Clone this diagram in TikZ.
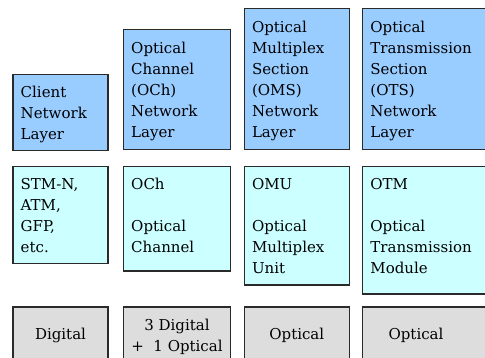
\documentclass[tikz,border=0pt]{standalone}
\usepackage{fontspec}
\setmainfont{DejaVu Serif}
\definecolor{layerblue}{HTML}{99CCFF}
\definecolor{unitcyan}{HTML}{CCFFFF}
\definecolor{kindgray}{HTML}{DDDDDD}
\definecolor{edge}{HTML}{2A2A2A}
\tikzset{
  layerbox/.style={draw=edge, line width=1.3pt, fill=layerblue},
  unitbox/.style={draw=edge, line width=1.3pt, fill=unitcyan},
  kindbox/.style={draw=edge, line width=1.3pt, fill=kindgray},
  txt/.style={inner sep=0pt, align=left, anchor=base west, font=\fontsize{15}{21}\selectfont},
  ctxt/.style={inner sep=0pt, align=center, anchor=base, font=\fontsize{15}{21}\selectfont},
}
\begin{document}
\begin{tikzpicture}[x=1pt, y=-1pt]
\useasboundingbox (0,0) rectangle (485,358);
\clip (0,0) rectangle (485,358);
% row 1 (node anchors are at the baseline of the last line)
\path[layerbox] (13,74.7) rectangle (108,150.7);
\path[layerbox] (123.5,29.7) rectangle (230.5,149.3);
\path[layerbox] (244.3,8.3) rectangle (349.3,149.3);
\path[layerbox] (362.7,8.3) rectangle (495,149.3);
\node[txt] (l1) at (20.5,139.7) {Client\\Network\\Layer};
\node[txt] (l2) at (131,137.3) {Optical\\Channel\\(OCh)\\Network\\Layer};
\node[txt] (l3) at (251.8,137.3) {Optical\\Multiplex\\Section\\(OMS)\\Network\\Layer};
\node[txt] (l4) at (370.2,137.3) {Optical\\Transmission\\Section\\(OTS)\\Network\\Layer};
% row 2
\path[unitbox] (13,166.7) rectangle (108,263.3);
\path[unitbox] (123.5,166.7) rectangle (230.5,271);
\path[unitbox] (244.3,166.7) rectangle (349.3,285);
\path[unitbox] (362.7,166.7) rectangle (495,294);
\node[txt] (u1) at (20.5,252.7) {STM-N,\\ATM,\\GFP,\\etc.};
\node[txt] (u2) at (131,252.7) {OCh\\[21pt]Optical\\Channel};
\node[txt] (u3) at (251.8,273.7) {OMU\\[21pt]Optical\\Multiplex\\Unit};
\node[txt] (u4) at (370.2,273.7) {OTM\\[21pt]Optical\\Transmission\\Module};
% row 3
\path[kindbox] (13,307) rectangle (108,375);
\path[kindbox] (123.5,307) rectangle (230.5,375);
\path[kindbox] (244.3,307) rectangle (349.3,375);
\path[kindbox] (362.7,307) rectangle (495,375);
\node[ctxt] (k1) at (60.5,339.3) {Digital};
\node[ctxt] (k2) at (177,351.7) {3 Digital\\+~~1 Optical};
\node[ctxt] (k3) at (296.8,339.3) {Optical};
\node[ctxt] (k4) at (416,339.3) {Optical};
\end{tikzpicture}
\end{document}
